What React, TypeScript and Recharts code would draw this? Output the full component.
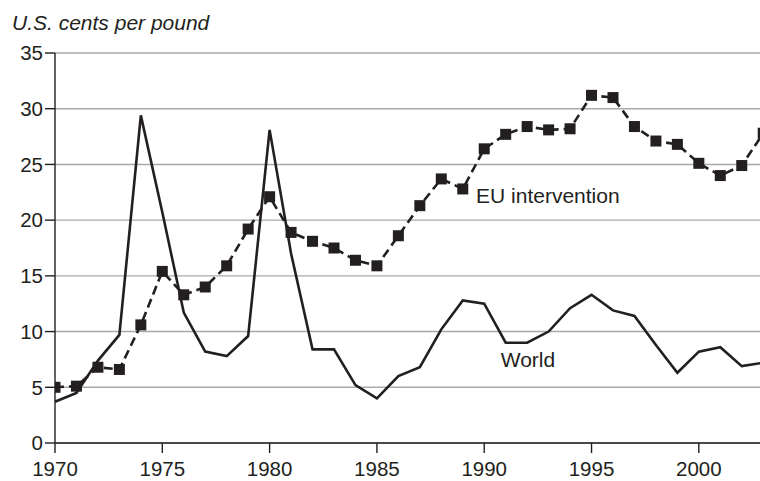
import React from "react";
import {
  LineChart,
  Line,
  XAxis,
  YAxis,
  CartesianGrid,
  ReferenceDot,
} from "recharts";

const years = [
  1970, 1971, 1972, 1973, 1974, 1975, 1976, 1977, 1978, 1979, 1980, 1981,
  1982, 1983, 1984, 1985, 1986, 1987, 1988, 1989, 1990, 1991, 1992, 1993,
  1994, 1995, 1996, 1997, 1998, 1999, 2000, 2001, 2002, 2003,
];

const world = [
  3.7, 4.5, 7.4, 9.7, 29.4, 20.7, 11.7, 8.2, 7.8, 9.6, 28.1, 17.0,
  8.4, 8.4, 5.2, 4.0, 6.0, 6.8, 10.2, 12.8, 12.5, 9.0, 9.0, 10.0,
  12.1, 13.3, 11.9, 11.4, 8.8, 6.3, 8.2, 8.6, 6.9, 7.2,
];

const euIntervention = [
  5.0, 5.1, 6.8, 6.6, 10.6, 15.4, 13.3, 14.0, 15.9, 19.2, 22.1, 18.9,
  18.1, 17.5, 16.4, 15.9, 18.6, 21.3, 23.7, 22.8, 26.4, 27.7, 28.4, 28.1,
  28.2, 31.2, 31.0, 28.4, 27.1, 26.8, 25.1, 24.0, 24.9, 27.8,
];

const xTicks = [1970, 1975, 1980, 1985, 1990, 1995, 2000];
const yTicks = [0, 5, 10, 15, 20, 25, 30, 35];

const data = years.map((year, i) => ({
  year,
  world: world[i],
  eu: euIntervention[i],
}));

const ink = "#231f20";
const font = "'Liberation Sans', Arial, Helvetica, sans-serif";

const SquareDot = (props: any) => {
  const { cx, cy, index } = props;
  if (cx == null || cy == null) return <g key={`sq-${index}`} />;
  return (
    <rect
      key={`sq-${index}`}
      x={cx - 5.5}
      y={cy - 5.5}
      width={11}
      height={11}
      fill={ink}
    />
  );
};

export default function App() {
  return (
    <div
      style={{
        position: "absolute",
        left: 0,
        top: 0,
        width: 760,
        height: 481,
        background: "#fff",
        fontFamily: font,
        overflow: "hidden",
      }}
    >
      <div
        style={{
          position: "absolute",
          left: 12,
          top: 12,
          fontSize: 21,
          lineHeight: "21px",
          fontStyle: "italic",
          color: ink,
        }}
      >
        U.S. cents per pound
      </div>
      <LineChart
        width={760}
        height={481}
        data={data}
        margin={{ top: 53, right: 0, bottom: 0, left: 0 }}
        style={{ fontFamily: font }}
      >
        <CartesianGrid vertical={false} stroke="#a7a9ac" strokeWidth={1.4} />
        <XAxis
          dataKey="year"
          type="number"
          domain={[1970, 2002.85]}
          allowDataOverflow
          ticks={xTicks}
          height={38}
          tickSize={10}
          tickMargin={8}
          stroke={ink}
          strokeWidth={1.4}
          tick={{ fill: ink, fontSize: 20.5 }}
        />
        <YAxis
          type="number"
          domain={[0, 35]}
          ticks={yTicks}
          width={55}
          tickSize={10}
          tickMargin={2}
          stroke={ink}
          strokeWidth={1.4}
          tick={{ fill: ink, fontSize: 20.5 }}
        />
        <Line
          dataKey="world"
          type="linear"
          stroke={ink}
          strokeWidth={2.6}
          dot={false}
          activeDot={false}
          isAnimationActive={false}
        />
        <Line
          dataKey="eu"
          type="linear"
          stroke={ink}
          strokeWidth={2.6}
          strokeDasharray="9 5"
          dot={SquareDot}
          activeDot={false}
          isAnimationActive={false}
        />
        <ReferenceDot
          x={1989.62}
          y={22.2}
          r={0}
          fill="none"
          stroke="none"
          label={{
            value: "EU intervention",
            position: "right",
            offset: 0,
            fontSize: 21,
            fill: ink,
          }}
        />
        <ReferenceDot
          x={1990.77}
          y={7.5}
          r={0}
          fill="none"
          stroke="none"
          label={{
            value: "World",
            position: "right",
            offset: 0,
            fontSize: 21,
            fill: ink,
          }}
        />
      </LineChart>
    </div>
  );
}
